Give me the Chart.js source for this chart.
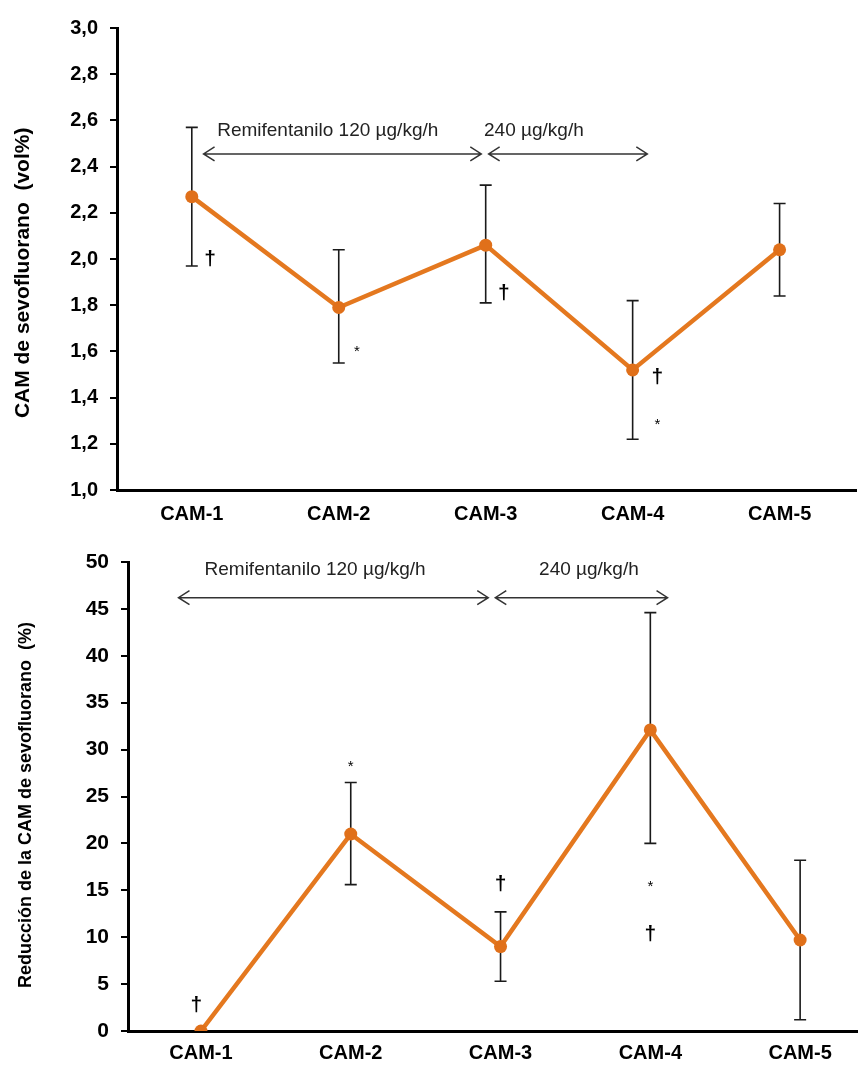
<!DOCTYPE html>
<html>
<head>
<meta charset="utf-8">
<script src="https://cdn.jsdelivr.net/npm/chart.js@4.4.0/dist/chart.umd.min.js"></script>
<style>
  body { margin: 0; background: #fff; }
  canvas { display: block; }
</style>
</head>
<body>
<canvas id="camChart" width="864" height="530"></canvas>
<canvas id="redChart" width="864" height="541"></canvas>
<script>
const categories = ["CAM-1", "CAM-2", "CAM-3", "CAM-4", "CAM-5"];

// upper panel: CAM de sevofluorano (vol%)
const camMean = [2.27, 1.79, 2.06, 1.52, 2.04];
const camLow = [1.97, 1.55, 1.81, 1.22, 1.84];
const camHigh = [2.57, 2.04, 2.32, 1.82, 2.24];
const camTicks = [1.0, 1.2, 1.4, 1.6, 1.8, 2.0, 2.2, 2.4, 2.6, 2.8, 3.0];

// lower panel: reduccion de la CAM (%)
const redMean = [0, 21.0, 9.0, 32.1, 9.7];
const redLow = [null, 15.6, 5.3, 20.0, 1.2];
const redHigh = [null, 26.5, 12.7, 44.6, 18.2];
const redTicks = [0, 5, 10, 15, 20, 25, 30, 35, 40, 45, 50];

const doseLabels = ["Remifentanilo 120 µg/kg/h", "240 µg/kg/h"];

// significance marks: [symbol, category index, value]
const camMarks = [["†", 0.125, 2.0], ["*", 1.124, 1.60], ["†", 2.123, 1.85], ["†", 3.168, 1.49], ["*", 3.168, 1.28]];
const redMarks = [["†", -0.03, 2.8], ["*", 1.0, 28.2], ["†", 2.0, 15.6], ["*", 3.0, 15.4], ["†", 3.0, 10.3]];

const FONT = "'Liberation Sans', Arial, sans-serif";
Chart.defaults.font.family = FONT;
Chart.defaults.color = "#000";

function drawArrow(ctx, x1, x2, y) {
    ctx.beginPath();
    ctx.moveTo(x1, y);
    ctx.lineTo(x2, y);
    ctx.moveTo(x1 + 11, y - 7);
    ctx.lineTo(x1, y);
    ctx.lineTo(x1 + 11, y + 7);
    ctx.moveTo(x2 - 11, y - 7);
    ctx.lineTo(x2, y);
    ctx.lineTo(x2 - 11, y + 7);
    ctx.stroke();
}

const decorations = {
    id: "decorations",
    beforeDatasetsDraw(chart, args, o) {
        const ctx = chart.ctx;
        const x = chart.scales.x, y = chart.scales.y;
        ctx.save();
        ctx.strokeStyle = "#1a1a1a";
        ctx.lineWidth = 1.6;
        o.low.forEach((lo, i) => {
            if (lo === null) return;
            const px = x.getPixelForValue(i);
            const yl = y.getPixelForValue(lo);
            const yh = y.getPixelForValue(o.high[i]);
            ctx.beginPath();
            ctx.moveTo(px, yl); ctx.lineTo(px, yh);
            ctx.moveTo(px - 6, yl); ctx.lineTo(px + 6, yl);
            ctx.moveTo(px - 6, yh); ctx.lineTo(px + 6, yh);
            ctx.stroke();
        });
        ctx.restore();
    },
    afterDatasetsDraw(chart, args, o) {
        const ctx = chart.ctx;
        const x = chart.scales.x, y = chart.scales.y;
        ctx.save();
        ctx.textAlign = "center";
        ctx.textBaseline = "middle";
        o.marks.forEach(m => {
            ctx.font = m[0] === "†" ? "bold 21px " + FONT : "15px " + FONT;
            ctx.fillStyle = "#000";
            ctx.fillText(m[0], x.getPixelForValue(m[1]), y.getPixelForValue(m[2]));
        });
        ctx.strokeStyle = "#333";
        ctx.lineWidth = 1.5;
        const ay = y.getPixelForValue(o.arrowY);
        o.arrows.forEach(a => drawArrow(ctx, x.getPixelForValue(a[0]), x.getPixelForValue(a[1]), ay));
        ctx.font = "19px " + FONT;
        ctx.fillStyle = "#222";
        o.texts.forEach((t, i) => ctx.fillText(doseLabels[i], x.getPixelForValue(t), y.getPixelForValue(o.textY)));

        // y axis title, a little below the axis centre as in the original
        ctx.save();
        ctx.translate(o.titleX, y.getPixelForValue(o.titleY));
        ctx.rotate(-Math.PI / 2);
        ctx.font = "bold " + o.titleSize + "px " + FONT;
        ctx.fillStyle = "#000";
        ctx.fillText(o.title, 0, 0);
        ctx.restore();
        ctx.restore();
    }
};

function makeChart(id, cfg) {
    return new Chart(document.getElementById(id), {
        type: "line",
        data: {
            datasets: [{
                data: cfg.mean.map((v, i) => ({ x: i, y: v })),
                borderColor: "#E4781F",
                borderWidth: 4.5,
                pointRadius: 6.5,
                pointBackgroundColor: "#E0701A",
                pointBorderWidth: 0,
                tension: 0
            }]
        },
        options: {
            responsive: false,
            animation: false,
            layout: { padding: cfg.padding },
            plugins: {
                legend: { display: false },
                tooltip: { enabled: false },
                decorations: cfg.deco
            },
            scales: {
                x: {
                    type: "linear",
                    min: cfg.xMin,
                    max: cfg.xMax,
                    afterBuildTicks: s => { s.ticks = categories.map((c, i) => ({ value: i })); },
                    afterFit: s => { s.height = cfg.xHeight; },
                    ticks: {
                        callback: v => categories[v],
                        font: { size: 20, weight: "bold" },
                        padding: cfg.xPad,
                        maxRotation: 0,
                        autoSkip: false
                    },
                    grid: { display: false, drawTicks: false },
                    border: { color: "#000", width: 3 }
                },
                y: {
                    min: cfg.ticks[0],
                    max: cfg.ticks[cfg.ticks.length - 1],
                    afterBuildTicks: s => { s.ticks = cfg.ticks.map(v => ({ value: v })); },
                    afterFit: s => { s.width = cfg.yWidth; },
                    ticks: {
                        callback: cfg.fmt,
                        font: { size: cfg.tickSize, weight: "bold" },
                        padding: 12
                    },
                    grid: { drawOnChartArea: false, tickLength: 7, color: "#000", lineWidth: 2 },
                    border: { color: "#000", width: 3 }
                }
            }
        },
        plugins: [decorations]
    });
}

makeChart("camChart", {
    mean: camMean,
    ticks: camTicks,
    fmt: v => v.toFixed(1).replace(".", ","),
    tickSize: 20,
    yWidth: 117,
    xHeight: 40,
    xPad: 12,
    xMin: -0.509,
    xMax: 4.52,
    padding: { top: 28, right: 8, left: 0, bottom: 0 },
    deco: {
        low: camLow, high: camHigh, marks: camMarks,
        arrows: [[0.08, 1.97], [2.02, 3.1]], arrowY: 2.455,
        texts: [0.925, 2.328], textY: 2.554,
        title: "CAM de sevofluorano  (vol%)", titleSize: 21, titleX: 23, titleY: 1.94
    }
});

makeChart("redChart", {
    mean: redMean,
    ticks: redTicks,
    fmt: v => String(v),
    tickSize: 21,
    yWidth: 128,
    xHeight: 40,
    xPad: 10,
    xMin: -0.487,
    xMax: 4.383,
    padding: { top: 32, right: 2, left: 0, bottom: 0 },
    deco: {
        low: redLow, high: redHigh, marks: redMarks,
        arrows: [[-0.15, 1.918], [1.965, 3.115]], arrowY: 46.2,
        texts: [0.762, 2.59], textY: 49.2,
        title: "Reducción de la CAM de sevofluorano  (%)", titleSize: 18, titleX: 26, titleY: 24.1
    }
});
</script>
</body>
</html>
